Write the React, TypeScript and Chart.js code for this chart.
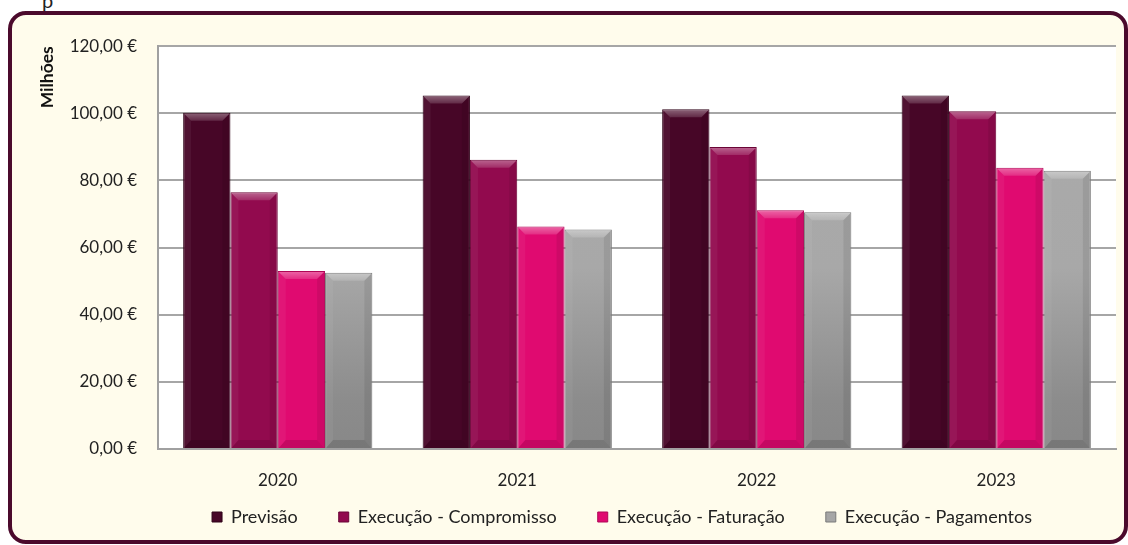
import React, { useEffect, useRef } from "react";
import { Chart, registerables } from "chart.js";

Chart.register(...registerables);

const categories = ["2020", "2021", "2022", "2023"];
const seriesNames = [
  "Previsão",
  "Execução - Compromisso",
  "Execução - Faturação",
  "Execução - Pagamentos",
];
const previsao = [100.2, 105.3, 101.2, 105.3];
const compromisso = [76.5, 86.2, 90.0, 100.6];
const faturacao = [53.0, 66.3, 71.1, 83.8];
const pagamentos = [52.5, 65.4, 70.5, 82.9];
const yTicks = [0, 20, 40, 60, 80, 100, 120];

const FONT = "Lato, 'Open Sans', sans-serif";
const fills = ["#470627", "#920a4e", "#e00a70", "#a6a6a6"];
const borders = ["#2e0318", "#6a0536", "#b00656", "#7a7a7a"];

const fmt = (v: number) => v.toFixed(2).replace(".", ",") + " €";

const plotBgFirst = {
  id: "plotBgFirst",
  beforeDraw(chart: any) {
    const { ctx, chartArea } = chart;
    if (!chartArea) return;
    ctx.save();
    ctx.fillStyle = "#ffffff";
    ctx.fillRect(chartArea.left, chartArea.top, chartArea.right - chartArea.left, chartArea.bottom - chartArea.top);
    ctx.restore();
  },
};

// place the legend row where the reference has it
const legendShift = {
  id: "legendShift",
  afterLayout(chart: any) {
    const lg = chart.legend;
    if (!lg) return;
    lg.top -= 24;
    lg.bottom = chart.height;
    lg.height = lg.bottom - lg.top;
    lg.left -= 15;
    lg.right -= 15;
  },
};

const bevel = {
  id: "bevel",
  afterDatasetsDraw(chart: any) {
    const ctx = chart.ctx;
    chart.data.datasets.forEach((_: any, di: number) => {
      const meta = chart.getDatasetMeta(di);
      meta.data.forEach((bar: any) => {
        const w = bar.width;
        const l = bar.x - w / 2;
        const r = bar.x + w / 2;
        const t = bar.y;
        const b = bar.base;
        const s = Math.min(8, (b - t) / 2);
        ctx.save();
        const g = ctx.createLinearGradient(0, t, 0, t + s);
        g.addColorStop(0, "rgba(255,255,255,0.38)");
        g.addColorStop(1, "rgba(255,255,255,0.14)");
        ctx.fillStyle = g;
        ctx.beginPath();
        ctx.moveTo(l + 1, t + 1);
        ctx.lineTo(r - 1, t + 1);
        ctx.lineTo(r - s, t + s);
        ctx.lineTo(l + s, t + s);
        ctx.closePath();
        ctx.fill();
        ctx.fillStyle = "rgba(255,255,255,0.05)";
        ctx.beginPath();
        ctx.moveTo(l + 1, t + 1);
        ctx.lineTo(l + s, t + s);
        ctx.lineTo(l + s, b - s);
        ctx.lineTo(l + 1, b);
        ctx.closePath();
        ctx.fill();
        ctx.fillStyle = "rgba(0,0,0,0.08)";
        ctx.beginPath();
        ctx.moveTo(r - 1, t + 1);
        ctx.lineTo(r - s, t + s);
        ctx.lineTo(r - s, b - s);
        ctx.lineTo(r - 1, b);
        ctx.closePath();
        ctx.fill();
        ctx.fillStyle = "rgba(0,0,0,0.12)";
        ctx.beginPath();
        ctx.moveTo(l + 1, b);
        ctx.lineTo(r - 1, b);
        ctx.lineTo(r - s, b - s);
        ctx.lineTo(l + s, b - s);
        ctx.closePath();
        ctx.fill();
        ctx.restore();
      });
    });
  },
};

export default function App() {
  const ref = useRef<HTMLCanvasElement | null>(null);

  useEffect(() => {
    if (!ref.current) return;
    const grayFill = (c: any) => {
      const chart = c.chart;
      const area = chart.chartArea;
      if (!area) return "#a6a6a6";
      const g = chart.ctx.createLinearGradient(0, area.top, 0, area.bottom);
      g.addColorStop(0, "#ababab");
      g.addColorStop(0.55, "#a8a8a8");
      g.addColorStop(0.88, "#8c8c8c");
      g.addColorStop(1, "#888888");
      return g;
    };
    const chart = new Chart(ref.current, {
      type: "bar",
      data: {
        labels: categories,
        datasets: [
          { label: seriesNames[0], data: previsao, backgroundColor: fills[0], borderColor: borders[0], borderWidth: 1 },
          { label: seriesNames[1], data: compromisso, backgroundColor: fills[1], borderColor: borders[1], borderWidth: 1 },
          { label: seriesNames[2], data: faturacao, backgroundColor: fills[2], borderColor: borders[2], borderWidth: 1 },
          { label: seriesNames[3], data: pagamentos, backgroundColor: grayFill, borderColor: borders[3], borderWidth: 1 },
        ],
      },
      options: {
        animation: false,
        responsive: true,
        maintainAspectRatio: false,
        datasets: { bar: { categoryPercentage: 0.79, barPercentage: 1 } },
        layout: { padding: { top: 21, right: 8, bottom: 5, left: 0 } },
        plugins: {
          legend: {
            position: "bottom",
            fullSize: false,
            maxHeight: 44,
            labels: {
              boxWidth: 10,
              boxHeight: 10,
              padding: 41,
              color: "#222",
              font: { family: FONT, size: 18 },
              generateLabels: (ch: any) =>
                ch.data.datasets.map((d: any, i: number) => ({
                  text: d.label,
                  fillStyle: fills[i],
                  strokeStyle: borders[i],
                  lineWidth: 1,
                  hidden: false,
                  datasetIndex: i,
                  fontColor: "#222",
                })),
            },
          },
          tooltip: { enabled: false },
        },
        scales: {
          x: {
            grid: { display: false, drawTicks: false },
            border: { display: true, color: "#a0a0a0", width: 2 },
            ticks: { padding: 21, color: "#222", font: { family: FONT, size: 17 } },
            afterFit: (s: any) => {
              s.height = 42;
            },
          },
          y: {
            min: 0,
            max: 120,
            afterBuildTicks: (s: any) => {
              s.ticks = yTicks.map((v) => ({ value: v }));
            },
            grid: { color: "#a6a6a6", lineWidth: 2, drawTicks: false },
            border: { display: true, color: "#a0a0a0", width: 2 },
            ticks: {
              padding: 21,
              color: "#222",
              font: { family: FONT, size: 17 },
              callback: (v: any) => fmt(Number(v)),
            },
            title: {
              display: true,
              text: "Milhões",
              align: "end",
              color: "#111",
              font: { family: FONT, size: 17.5, weight: "bold" },
              padding: { top: 24.5, bottom: 0 },
            },
            afterFit: (s: any) => {
              s.width = 146;
            },
          },
        },
      },
      plugins: [plotBgFirst, legendShift, bevel],
    });
    return () => chart.destroy();
  }, []);

  return (
    <div>
      <div
        style={{
          position: "absolute",
          left: 42,
          top: -10,
          fontFamily: FONT,
          fontSize: 20,
          lineHeight: "20px",
          color: "#222",
        }}
      >
        p
      </div>
      <div
        style={{
          position: "absolute",
          left: 8,
          top: 11,
          width: 1120,
          height: 533,
          boxSizing: "border-box",
          border: "4px solid #4b0a2c",
          borderRadius: 18,
          background: "#fffcec",
          overflow: "hidden",
        }}
      >
        <div style={{ position: "relative", width: 1112, height: 525 }}>
          <canvas ref={ref} />
        </div>
      </div>
    </div>
  );
}
